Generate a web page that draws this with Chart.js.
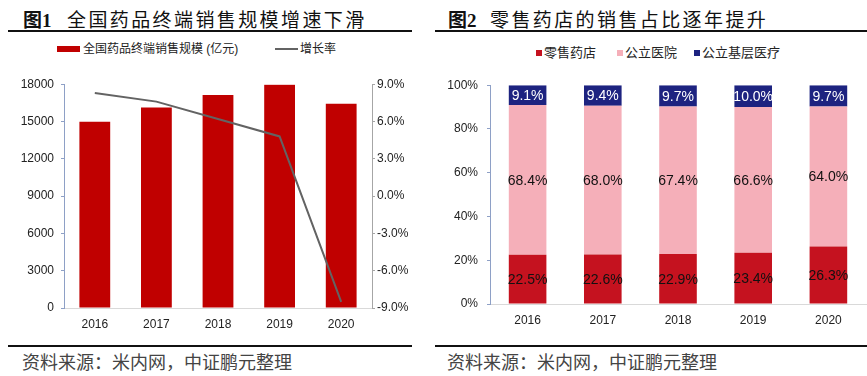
<!DOCTYPE html>
<html>
<head>
<meta charset="utf-8">
<script src="https://cdn.jsdelivr.net/npm/chart.js@4.4.0/dist/chart.umd.min.js"></script>
<style>
    body { margin: 0; background: #fff; }
    #page { position: relative; width: 867px; height: 376px; overflow: hidden; font-family: "Liberation Sans", "Noto Sans CJK SC", sans-serif; }
    .fig-no { position: absolute; top: 5px; font: bold 19px "Liberation Serif", "Noto Sans CJK SC", serif; color: #111; }
    .fig-title { position: absolute; top: 5px; font: 400 19px "Liberation Serif", "Noto Sans CJK SC", serif; letter-spacing: 2.4px; color: #111; }
    .rule { position: absolute; height: 1.5px; background: #111; }
    .source { position: absolute; top: 348px; font: 18px "Noto Sans CJK SC", serif; color: #444; }
    .legend { position: absolute; font-size: 12px; color: #222; line-height: 14px; white-space: nowrap; }
    canvas { position: absolute; }
</style>
</head>
<body>
<div id="page">
    <div class="fig-no" style="left:23px">图1</div>
    <div class="fig-title" style="left:67px">全国药品终端销售规模增速下滑</div>
    <div class="rule" style="left:8px; width:404px; top:30px"></div>

    <div class="fig-no" style="left:448px">图2</div>
    <div class="fig-title" style="left:490px">零售药店的销售占比逐年提升</div>
    <div class="rule" style="left:435px; width:432px; top:30px"></div>

    <div id="legend1"></div>
    <div id="legend2"></div>

    <canvas id="salesChart" width="430" height="268" style="left:0; top:70px"></canvas>
    <canvas id="shareChart" width="437" height="265" style="left:430px; top:69px"></canvas>

    <div class="rule" style="left:8px; width:404px; top:345px"></div>
    <div class="rule" style="left:435px; width:432px; top:345px"></div>
    <div class="source" style="left:22px">资料来源：米内网，中证鹏元整理</div>
    <div class="source" style="left:447px">资料来源：米内网，中证鹏元整理</div>
</div>

<script>
// Data
const years = ['2016', '2017', '2018', '2019', '2020'];

const salesLabel = '全国药品终端销售规模 (亿元)';
const growthLabel = '增长率';
const salesScale = [14975, 16118, 17131, 17955, 16437];
const growthRate = [8.3, 7.6, 6.2, 4.8, -8.5];

const shareLabels = ['零售药店', '公立医院', '公立基层医疗'];
const retailShare = [22.5, 22.6, 22.9, 23.4, 26.3];
const hospitalShare = [68.4, 68.0, 67.4, 66.6, 64.0];
const primaryShare = [9.1, 9.4, 9.7, 10.0, 9.7];

const salesTicks = { min: 0, max: 18000, step: 3000 };
const growthTicks = { min: -9, max: 9, step: 3 };
const shareTicks = { min: 0, max: 100, step: 20 };

// Colours
const barRed = '#C00000';
const lineGray = '#636363';
const retailRed = '#C5121F';
const hospitalPink = '#F5AFB9';
const primaryNavy = '#1D2380';
const axisBlue = '#8EA0C6';
const axisGray = '#A6A6A6';
const baseGray = '#D9D9D9';

Chart.defaults.font.family = '"Liberation Sans", Arial, sans-serif';
Chart.defaults.font.size = 12;
Chart.defaults.color = '#222';

// HTML legends
function buildLegends() {
    const l1 = document.getElementById('legend1');
    l1.innerHTML =
        '<div class="legend" style="left:57px; top:46px; width:23px; height:6px; background:' + barRed + '"></div>' +
        '<div class="legend" style="left:83px; top:42px">' + salesLabel + '</div>' +
        '<div class="legend" style="left:275px; top:48px; width:23px; height:2px; background:' + lineGray + '"></div>' +
        '<div class="legend" style="left:300px; top:42px">' + growthLabel + '</div>';

    const l2 = document.getElementById('legend2');
    const colors = [retailRed, hospitalPink, primaryNavy];
    const boxLeft = [536, 617, 694];
    let html = '';
    shareLabels.forEach((name, i) => {
        html += '<div class="legend" style="left:' + boxLeft[i] + 'px; top:50px; width:6px; height:6px; background:' + colors[i] + '"></div>';
        html += '<div class="legend" style="left:' + (boxLeft[i] + 8) + 'px; top:45px; font-size:13px; line-height:16px">' + name + '</div>';
    });
    l2.innerHTML = html;
}

// Labels inside stacked segments
const segmentLabels = {
    id: 'segmentLabels',
    afterDatasetsDraw(chart) {
        const ctx = chart.ctx;
        ctx.save();
        ctx.font = '14px "Liberation Sans", Arial, sans-serif';
        ctx.textAlign = 'center';
        ctx.textBaseline = 'middle';
        chart.data.datasets.forEach((ds, i) => {
            const meta = chart.getDatasetMeta(i);
            meta.data.forEach((bar, j) => {
                ctx.fillStyle = ds.labelColor;
                ctx.fillText(ds.data[j].toFixed(1) + '%', bar.x, (bar.y + bar.base) / 2 + 1);
            });
        });
        ctx.restore();
    }
};

// Figure 1: sales scale with growth rate
function createSalesChart() {
    const ctx = document.getElementById('salesChart').getContext('2d');
    new Chart(ctx, {
        data: {
            labels: years,
            datasets: [
                {
                    type: 'line',
                    label: growthLabel,
                    data: growthRate,
                    borderColor: lineGray,
                    borderWidth: 2,
                    pointRadius: 0,
                    tension: 0,
                    yAxisID: 'y1',
                    order: 0
                },
                {
                    type: 'bar',
                    label: salesLabel,
                    data: salesScale,
                    backgroundColor: barRed,
                    barPercentage: 0.5,
                    categoryPercentage: 1.0,
                    yAxisID: 'y',
                    order: 1
                }
            ]
        },
        options: {
            responsive: false,
            animation: false,
            layout: { padding: { top: 10, left: 0, right: 0, bottom: 0 } },
            plugins: { legend: { display: false }, tooltip: { enabled: false } },
            scales: {
                x: {
                    grid: { display: false, drawTicks: false },
                    border: { color: baseGray },
                    ticks: { padding: 9 },
                    afterFit: scale => { scale.height = 30; }
                },
                y: {
                    position: 'left',
                    min: salesTicks.min,
                    max: salesTicks.max,
                    ticks: { stepSize: salesTicks.step, padding: 7, callback: v => String(v) },
                    grid: { drawOnChartArea: false, tickLength: 3, color: axisBlue },
                    border: { color: axisBlue },
                    afterFit: scale => { scale.width = 64; }
                },
                y1: {
                    position: 'right',
                    min: growthTicks.min,
                    max: growthTicks.max,
                    ticks: { stepSize: growthTicks.step, padding: 2, callback: v => v.toFixed(1) + '%' },
                    grid: { drawOnChartArea: false, tickLength: 3, color: axisGray },
                    border: { color: axisGray },
                    afterFit: scale => { scale.width = 58; }
                }
            }
        }
    });
}

// Figure 2: sales share by channel
function createShareChart() {
    const ctx = document.getElementById('shareChart').getContext('2d');
    const series = [retailShare, hospitalShare, primaryShare];
    const colors = [retailRed, hospitalPink, primaryNavy];
    const labelColors = ['#111', '#111', '#fff'];
    new Chart(ctx, {
        type: 'bar',
        data: {
            labels: years,
            datasets: series.map((data, i) => ({
                label: shareLabels[i],
                data: data,
                backgroundColor: colors[i],
                labelColor: labelColors[i],
                barPercentage: 0.5,
                categoryPercentage: 1.0
            }))
        },
        options: {
            responsive: false,
            animation: false,
            layout: { padding: { top: 10, left: 0, right: 1, bottom: 0 } },
            plugins: { legend: { display: false }, tooltip: { enabled: false } },
            scales: {
                x: {
                    stacked: true,
                    grid: { display: false, drawTicks: false },
                    border: { color: baseGray },
                    ticks: { padding: 9 },
                    afterFit: scale => { scale.height = 30; }
                },
                y: {
                    stacked: true,
                    min: shareTicks.min,
                    max: shareTicks.max,
                    ticks: { stepSize: shareTicks.step, padding: 9, callback: v => v + '%' },
                    grid: { drawOnChartArea: false, tickLength: 3, color: axisBlue },
                    border: { color: axisBlue },
                    afterFit: scale => { scale.width = 60; }
                }
            }
        },
        plugins: [segmentLabels]
    });
}

buildLegends();
createSalesChart();
createShareChart();
</script>
</body>
</html>
